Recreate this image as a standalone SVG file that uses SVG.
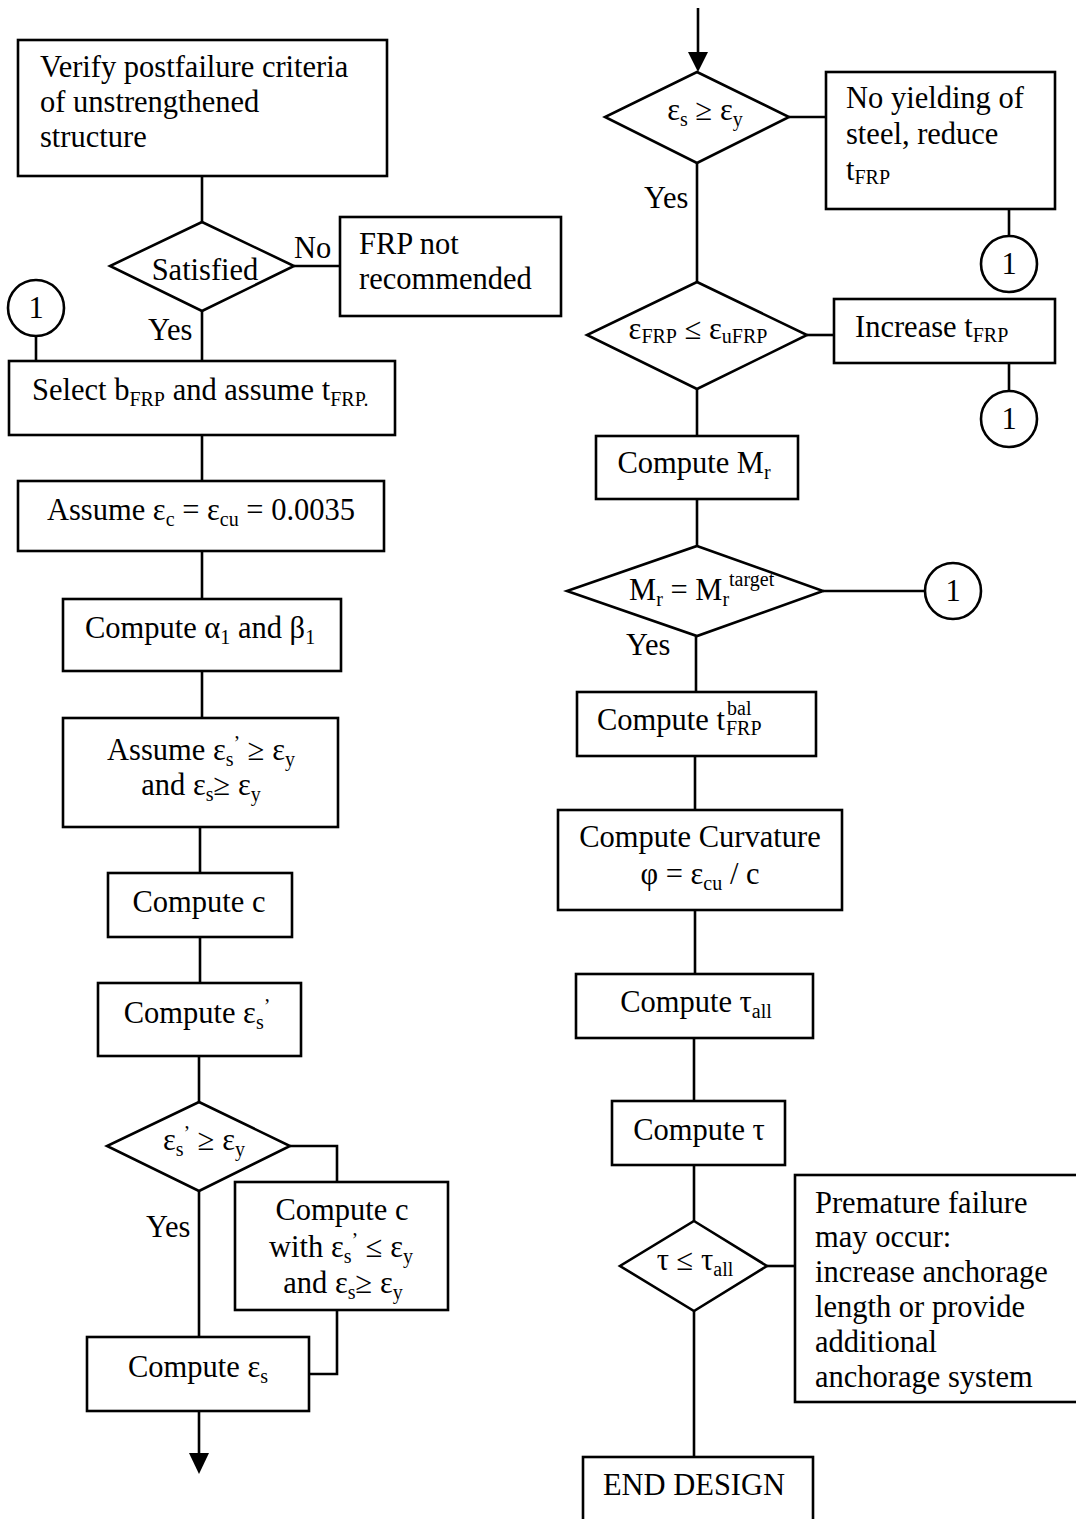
<svg xmlns="http://www.w3.org/2000/svg" width="1076" height="1519" viewBox="0 0 1076 1519">
<style>
rect.b, polygon.d, circle.c { fill: #fff; stroke: #000; stroke-width: 2.6; }
#connectors line, #connectors polyline { fill: none; stroke: #000; stroke-width: 2.6; }
#connectors polygon { fill: #000; stroke: none; }
text { font-family: "Liberation Serif", "Times New Roman", serif; font-size: 30.5px; fill: #000; }
text.m { text-anchor: middle; }
tspan.s { font-size: 20px; }
text.sm { font-size: 20px; }
</style>
<rect width="1076" height="1519" fill="#fff"/>
<g id="connectors">
  <line x1="202" y1="176" x2="202" y2="222"/>
  <line x1="294" y1="266" x2="340" y2="266"/>
  <line x1="202" y1="311" x2="202" y2="361"/>
  <line x1="36" y1="336" x2="36" y2="361"/>
  <line x1="202" y1="435" x2="202" y2="481"/>
  <line x1="202" y1="551" x2="202" y2="599"/>
  <line x1="202" y1="671" x2="202" y2="718"/>
  <line x1="200" y1="827" x2="200" y2="873"/>
  <line x1="200" y1="937" x2="200" y2="983"/>
  <line x1="199" y1="1056" x2="199" y2="1102"/>
  <polyline points="290,1146 337,1146 337,1182"/>
  <line x1="199" y1="1191" x2="199" y2="1337"/>
  <polyline points="337,1310 337,1374 309,1374"/>
  <line x1="199" y1="1411" x2="199" y2="1456"/>
  <polygon points="189,1453 209,1453 199,1474"/>
  <line x1="698" y1="8" x2="698" y2="55"/>
  <polygon points="688,52 708,52 698,72"/>
  <line x1="789" y1="117" x2="826" y2="117"/>
  <line x1="1009" y1="209" x2="1009" y2="236"/>
  <line x1="697" y1="163" x2="697" y2="282"/>
  <line x1="807" y1="335" x2="834" y2="335"/>
  <line x1="1009" y1="363" x2="1009" y2="392"/>
  <line x1="697" y1="389" x2="697" y2="436"/>
  <line x1="697" y1="499" x2="697" y2="546"/>
  <line x1="823" y1="591" x2="926" y2="591"/>
  <line x1="696" y1="636" x2="696" y2="692"/>
  <line x1="695" y1="756" x2="695" y2="810"/>
  <line x1="695" y1="910" x2="695" y2="974"/>
  <line x1="694" y1="1038" x2="694" y2="1101"/>
  <line x1="694" y1="1165" x2="694" y2="1221"/>
  <line x1="767" y1="1266" x2="795" y2="1266"/>
  <line x1="694" y1="1311" x2="694" y2="1457"/>
</g>
<g id="n-verify"><rect class="b" x="18" y="40" width="369" height="136"/>
  <text x="40" y="77">Verify postfailure criteria</text>
  <text x="40" y="112">of unstrengthened</text>
  <text x="40" y="147">structure</text></g>
<g id="n-satisfied"><polygon class="d" points="202,222 294,266 202,311 110,266"/>
  <text class="m" x="205" y="280">Satisfied</text></g>
<g id="l-no"><text x="294" y="258">No</text></g>
<g id="n-frpnot"><rect class="b" x="340" y="217" width="221" height="99"/>
  <text x="359" y="254">FRP not</text>
  <text x="359" y="289">recommended</text></g>
<g id="l-yes1"><text x="148" y="340">Yes</text></g>
<g id="n-c1a"><circle class="c" cx="36" cy="308" r="28"/><text class="m" x="36" y="318">1</text></g>
<g id="n-select"><rect class="b" x="9" y="361" width="386" height="74"/>
  <text x="32" y="400">Select b<tspan class="s" dy="6">FRP</tspan><tspan dy="-6"> and assume t</tspan><tspan class="s" dy="6">FRP.</tspan></text></g>
<g id="n-assume-ec"><rect class="b" x="18" y="481" width="366" height="70"/>
  <text class="m" x="201" y="520">Assume ε<tspan class="s" dy="6">c</tspan><tspan dy="-6"> = ε</tspan><tspan class="s" dy="6">cu</tspan><tspan dy="-6"> = 0.0035</tspan></text></g>
<g id="n-alpha"><rect class="b" x="63" y="599" width="278" height="72"/>
  <text class="m" x="200" y="638">Compute α<tspan class="s" dy="6">1</tspan><tspan dy="-6"> and β</tspan><tspan class="s" dy="6">1</tspan></text></g>
<g id="n-assume-es"><rect class="b" x="63" y="718" width="275" height="109"/>
  <text class="m" x="201" y="760">Assume ε<tspan class="s" dy="6">s</tspan><tspan class="s" dy="-16">’</tspan><tspan dy="10"> ≥ ε</tspan><tspan class="s" dy="6">y</tspan></text>
  <text class="m" x="201" y="795">and ε<tspan class="s" dy="6">s</tspan><tspan dy="-6">≥ ε</tspan><tspan class="s" dy="6">y</tspan></text></g>
<g id="n-computec"><rect class="b" x="108" y="873" width="184" height="64"/>
  <text class="m" x="199" y="912">Compute c</text></g>
<g id="n-computees1"><rect class="b" x="98" y="983" width="203" height="73"/>
  <text class="m" x="197" y="1023">Compute ε<tspan class="s" dy="6">s</tspan><tspan class="s" dy="-16">’</tspan></text></g>
<g id="n-dec-es1"><polygon class="d" points="199,1102 290,1146 199,1191 107,1146"/>
  <text class="m" x="204" y="1150">ε<tspan class="s" dy="6">s</tspan><tspan class="s" dy="-16">’</tspan><tspan dy="10"> ≥ ε</tspan><tspan class="s" dy="6">y</tspan></text></g>
<g id="l-yes2"><text x="146" y="1237">Yes</text></g>
<g id="n-computec2"><rect class="b" x="235" y="1182" width="213" height="128"/>
  <text class="m" x="342" y="1220">Compute c</text>
  <text class="m" x="341" y="1257">with ε<tspan class="s" dy="6">s</tspan><tspan class="s" dy="-16">’</tspan><tspan dy="10">  ≤ ε</tspan><tspan class="s" dy="6">y</tspan></text>
  <text class="m" x="343" y="1293">and ε<tspan class="s" dy="6">s</tspan><tspan dy="-6">≥ ε</tspan><tspan class="s" dy="6">y</tspan></text></g>
<g id="n-computees"><rect class="b" x="87" y="1337" width="222" height="74"/>
  <text class="m" x="198" y="1377">Compute ε<tspan class="s" dy="6">s</tspan></text></g>
<g id="n-dec-es"><polygon class="d" points="697,72 789,117 697,163 605,117"/>
  <text class="m" x="705" y="120">ε<tspan class="s" dy="6">s</tspan><tspan dy="-6"> ≥ ε</tspan><tspan class="s" dy="6">y</tspan></text></g>
<g id="n-noyield"><rect class="b" x="826" y="72" width="229" height="137"/>
  <text x="846" y="108">No yielding of</text>
  <text x="846" y="144">steel, reduce</text>
  <text x="846" y="180">t<tspan class="s" dy="4">FRP</tspan></text></g>
<g id="n-c1b"><circle class="c" cx="1009" cy="264" r="28"/><text class="m" x="1009" y="274">1</text></g>
<g id="l-yes3"><text x="644" y="208">Yes</text></g>
<g id="n-dec-frp"><polygon class="d" points="697,282 807,335 697,389 587,335"/>
  <text class="m" x="698" y="339">ε<tspan class="s" dy="4">FRP</tspan><tspan dy="-4">  ≤ ε</tspan><tspan class="s" dy="4">uFRP</tspan></text></g>
<g id="n-increase"><rect class="b" x="834" y="299" width="221" height="64"/>
  <text x="855" y="337">Increase t<tspan class="s" dy="5">FRP</tspan></text></g>
<g id="n-c1c"><circle class="c" cx="1009" cy="419" r="28"/><text class="m" x="1009" y="429">1</text></g>
<g id="n-mr"><rect class="b" x="596" y="436" width="202" height="63"/>
  <text class="m" x="694" y="473">Compute M<tspan class="s" dy="6">r</tspan></text></g>
<g id="n-dec-mr"><polygon class="d" points="697,546 823,591 697,636 567,591"/>
  <text x="629" y="600">M<tspan class="s" dy="6">r</tspan><tspan dy="-6"> = M</tspan><tspan class="s" dy="6">r</tspan><tspan class="s" dy="-20">target</tspan></text></g>
<g id="n-c1d"><circle class="c" cx="953" cy="591" r="28"/><text class="m" x="953" y="601">1</text></g>
<g id="l-yes4"><text x="626" y="655">Yes</text></g>
<g id="n-tbal"><rect class="b" x="577" y="692" width="239" height="64"/>
  <text x="597" y="730">Compute t</text>
  <text class="sm" x="727" y="715">bal</text>
  <text class="sm" x="726" y="735">FRP</text></g>
<g id="n-curv"><rect class="b" x="558" y="810" width="284" height="100"/>
  <text class="m" x="700" y="847">Compute Curvature</text>
  <text class="m" x="700" y="884">φ = ε<tspan class="s" dy="6">cu</tspan><tspan dy="-6"> / c</tspan></text></g>
<g id="n-tauall"><rect class="b" x="576" y="974" width="237" height="64"/>
  <text class="m" x="696" y="1012">Compute τ<tspan class="s" dy="6">all</tspan></text></g>
<g id="n-tau"><rect class="b" x="612" y="1101" width="173" height="64"/>
  <text class="m" x="699" y="1140">Compute τ</text></g>
<g id="n-dec-tau"><polygon class="d" points="694,1221 767,1266 694,1311 620,1266"/>
  <text class="m" x="695" y="1270">τ ≤ τ<tspan class="s" dy="6">all</tspan></text></g>
<g id="n-premature"><rect class="b" x="795" y="1175" width="290" height="227"/>
  <text x="815" y="1213">Premature failure</text>
  <text x="815" y="1247">may occur:</text>
  <text x="815" y="1282">increase anchorage</text>
  <text x="815" y="1317">length or provide</text>
  <text x="815" y="1352">additional</text>
  <text x="815" y="1387">anchorage system</text></g>
<g id="n-end"><rect class="b" x="583" y="1457" width="230" height="70"/>
  <text class="m" x="694" y="1495">END DESIGN</text></g>
</svg>
